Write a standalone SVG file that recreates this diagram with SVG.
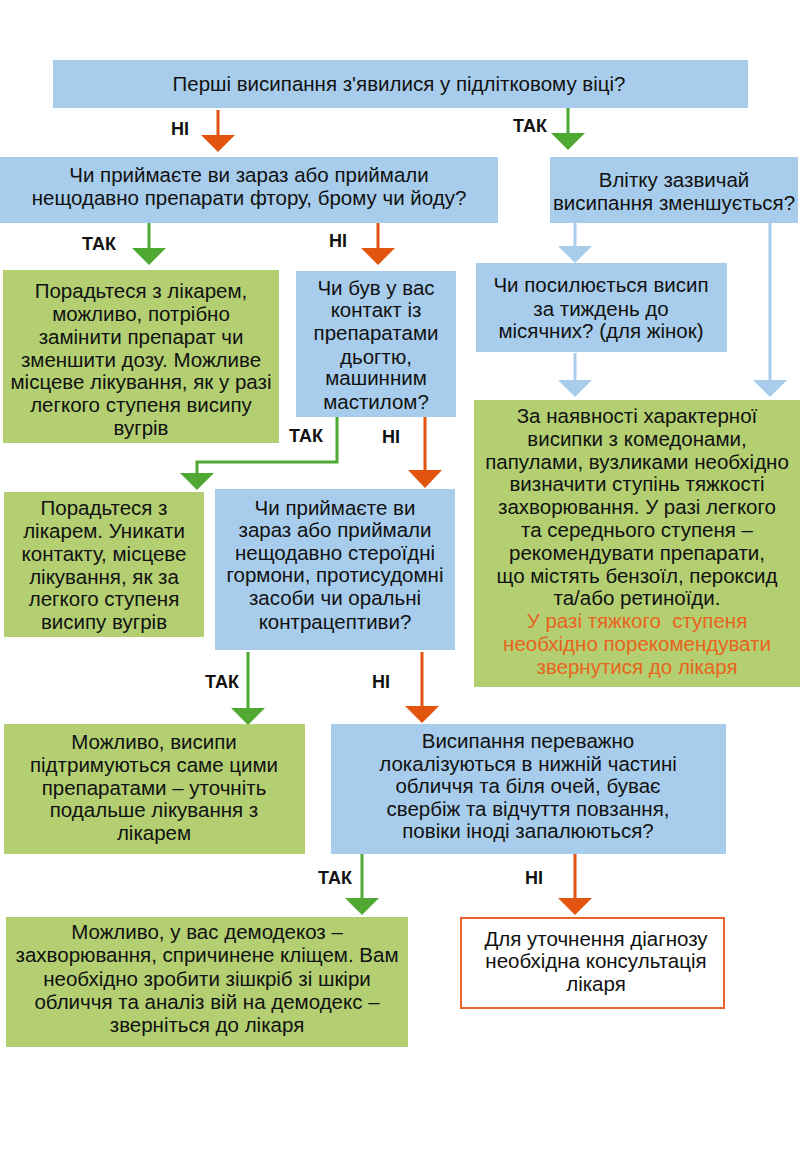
<svg xmlns="http://www.w3.org/2000/svg" width="800" height="1154" viewBox="0 0 800 1154">
<style>
.blue{fill:#a8cdec}
.green{fill:#b3cf71}
.t{font-family:"Liberation Sans",Arial,sans-serif;font-size:20.5px;fill:#111;text-anchor:middle}
.n{font-family:"Liberation Sans",Arial,sans-serif;font-size:20.5px;fill:#111;text-anchor:middle}
.lbl{font-family:"Liberation Sans",Arial,sans-serif;font-size:18px;font-weight:bold;fill:#111;text-anchor:middle}
.or{fill:#e8641e}
.lo{stroke:#e35410;stroke-width:3;fill:none}
.lg{stroke:#4ea832;stroke-width:3;fill:none}
.lb{stroke:#a8cdec;stroke-width:3;fill:none}
.ho{fill:#e35410}
.hg{fill:#4ea832}
.hb{fill:#a8cdec}
</style>
<rect width="800" height="1154" fill="#fff"/>
<g id="connectors">
<path class="lo" d="M218,110V136"/><polygon class="ho" points="201,135 235,135 218,152"/>
<path class="lg" d="M568,108V134"/><polygon class="hg" points="551,133 585,133 568,150"/>
<path class="lg" d="M149,223V249"/><polygon class="hg" points="132,248 166,248 149,265"/>
<path class="lo" d="M378,223V249"/><polygon class="ho" points="361,248 395,248 378,265"/>
<path class="lb" d="M575,223V247"/><polygon class="hb" points="558,246 592,246 575,263"/>
<path class="lb" d="M770,223V381"/><polygon class="hb" points="753,380 787,380 770,397"/>
<path class="lb" d="M575,353V381"/><polygon class="hb" points="558,380 592,380 575,397"/>
<path class="lg" d="M337,417V462H197V474"/><polygon class="hg" points="180,473 214,473 197,490"/>
<path class="lo" d="M425,417V471"/><polygon class="ho" points="408,470 442,470 425,488"/>
<path class="lg" d="M248,652V709"/><polygon class="hg" points="231,708 265,708 248,725"/>
<path class="lo" d="M422,652V707"/><polygon class="ho" points="405,706 439,706 422,723"/>
<path class="lg" d="M362,854V899"/><polygon class="hg" points="345,898 379,898 362,915"/>
<path class="lo" d="M575,854V899"/><polygon class="ho" points="558,898 592,898 575,915"/>
<text class="lbl" x="180" y="135">НІ</text>
<text class="lbl" x="530" y="132">ТАК</text>
<text class="lbl" x="99" y="250">ТАК</text>
<text class="lbl" x="338" y="247">НІ</text>
<text class="lbl" x="306" y="442">ТАК</text>
<text class="lbl" x="391" y="443">НІ</text>
<text class="lbl" x="222" y="688">ТАК</text>
<text class="lbl" x="381" y="688">НІ</text>
<text class="lbl" x="335" y="884">ТАК</text>
<text class="lbl" x="534" y="884">НІ</text>
</g>
<g id="q1">
<rect class="blue" x="53" y="60" width="695" height="48"/>
<text class="n" x="399" y="91">Перші висипання з'явилися у підлітковому віці?</text>
</g>
<g id="q2">
<rect class="blue" x="0" y="157" width="498" height="66"/>
<text class="t" x="249" y="182">Чи приймаєте ви зараз або приймали</text>
<text class="t" x="249" y="205">нещодавно препарати фтору, брому чи йоду?</text>
</g>
<g id="q3">
<rect class="blue" x="550" y="157" width="248" height="66"/>
<text class="t" x="674" y="187">Влітку зазвичай</text>
<text class="t" x="674" y="210">висипання зменшується?</text>
</g>
<g id="r1">
<rect class="green" x="3" y="270" width="276" height="173"/>
<text class="t" x="141" y="298">Порадьтеся з лікарем,</text>
<text class="t" x="141" y="321">можливо, потрібно</text>
<text class="t" x="141" y="344">замінити препарат чи</text>
<text class="t" x="141" y="367">зменшити дозу. Можливе</text>
<text class="t" x="141" y="389">місцеве лікування, як у разі</text>
<text class="t" x="141" y="412">легкого ступеня висипу</text>
<text class="t" x="141" y="435">вугрів</text>
</g>
<g id="q4">
<rect class="blue" x="296" y="271" width="160" height="146"/>
<text class="t" x="376" y="295">Чи був у вас</text>
<text class="t" x="376" y="317">контакт із</text>
<text class="t" x="376" y="340">препаратами</text>
<text class="t" x="376" y="364">дьогтю,</text>
<text class="t" x="376" y="385">машинним</text>
<text class="t" x="376" y="409">мастилом?</text>
</g>
<g id="q5">
<rect class="blue" x="476" y="263" width="251" height="89"/>
<text class="t" x="601" y="292">Чи посилюється висип</text>
<text class="t" x="601" y="316">за тиждень до</text>
<text class="t" x="601" y="338">місячних? (для жінок)</text>
</g>
<g id="r2">
<rect class="green" x="474" y="400" width="326" height="287"/>
<text class="t" x="637" y="423">За наявності характерної</text>
<text class="t" x="637" y="446">висипки з комедонами,</text>
<text class="t" x="637" y="469">папулами, вузликами необхідно</text>
<text class="t" x="637" y="491">визначити ступінь тяжкості</text>
<text class="t" x="637" y="514">захворювання. У разі легкого</text>
<text class="t" x="637" y="537">та середнього ступеня –</text>
<text class="t" x="637" y="560">рекомендувати препарати,</text>
<text class="t" x="637" y="583">що містять бензоїл, пероксид</text>
<text class="t" x="637" y="605">та/або ретиноїди.</text>
<text class="t or" x="637" y="628" xml:space="preserve">У разі тяжкого  ступеня</text>
<text class="t or" x="637" y="651">необхідно порекомендувати</text>
<text class="t or" x="637" y="674">звернутися до лікаря</text>
</g>
<g id="r3">
<rect class="green" x="4" y="492" width="200" height="145"/>
<text class="t" x="104" y="515">Порадьтеся з</text>
<text class="t" x="104" y="538">лікарем. Уникати</text>
<text class="t" x="104" y="561">контакту, місцеве</text>
<text class="t" x="104" y="584">лікування, як за</text>
<text class="t" x="104" y="606">легкого ступеня</text>
<text class="t" x="104" y="629">висипу вугрів</text>
</g>
<g id="q6">
<rect class="blue" x="215" y="489" width="240" height="161"/>
<text class="t" x="335" y="515">Чи приймаєте ви</text>
<text class="t" x="335" y="537">зараз або приймали</text>
<text class="t" x="335" y="560">нещодавно стероїдні</text>
<text class="t" x="335" y="582">гормони, протисудомні</text>
<text class="t" x="335" y="605">засоби чи оральні</text>
<text class="t" x="335" y="629">контрацептиви?</text>
</g>
<g id="r4">
<rect class="green" x="4" y="724" width="301" height="130"/>
<text class="n" x="154" y="749">Можливо, висипи</text>
<text class="n" x="154" y="772">підтримуються саме цими</text>
<text class="n" x="154" y="795">препаратами – уточніть</text>
<text class="n" x="154" y="817">подальше лікування з</text>
<text class="n" x="154" y="840">лікарем</text>
</g>
<g id="q7">
<rect class="blue" x="331" y="724" width="395" height="130"/>
<text class="n" x="528" y="748">Висипання переважно</text>
<text class="n" x="528" y="771">локалізуються в нижній частині</text>
<text class="n" x="528" y="793">обличчя та біля очей, буває</text>
<text class="n" x="528" y="816">свербіж та відчуття повзання,</text>
<text class="n" x="528" y="838">повіки іноді запалюються?</text>
</g>
<g id="r5">
<rect class="green" x="6" y="917" width="402" height="130"/>
<text class="n" x="207" y="939">Можливо, у вас демодекоз –</text>
<text class="n" x="207" y="962">захворювання, спричинене кліщем. Вам</text>
<text class="n" x="207" y="986">необхідно зробити зішкріб зі шкіри</text>
<text class="n" x="207" y="1009">обличчя та аналіз вій на демодекс –</text>
<text class="n" x="207" y="1032">зверніться до лікаря</text>
</g>
<g id="r6">
<rect x="461" y="918" width="263" height="90" fill="#fff" stroke="#e8642a" stroke-width="2"/>
<text class="n" x="596" y="946">Для уточнення діагнозу</text>
<text class="n" x="596" y="968">необхідна консультація</text>
<text class="n" x="596" y="991">лікаря</text>
</g>
</svg>
